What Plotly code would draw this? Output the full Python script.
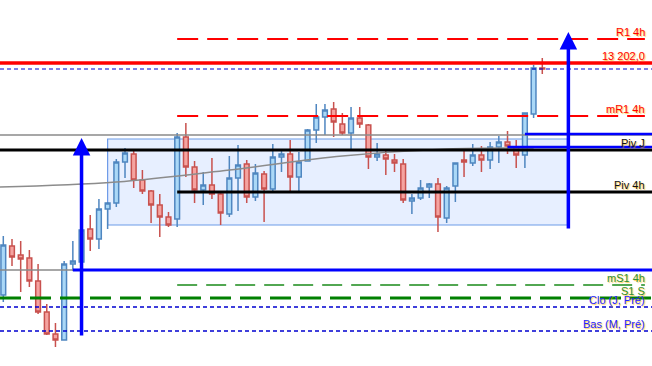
import plotly.graph_objects as go

# ---- candle data (hourly OHLC) ----
opens = [12970, 13019, 13010, 13007, 12984, 12953, 12931, 12925, 13001, 13003,
         13036, 13026, 13056, 13062, 13103, 13111, 13085, 13074, 13060, 13048,
         13046, 13128, 13098, 13075, 13080, 13071, 13051, 13087, 13101, 13068,
         13091, 13076, 13108, 13111, 13088, 13104, 13135, 13148, 13156, 13141,
         13132, 13147, 13140, 13108, 13110, 13105, 13101, 13064, 13067, 13078,
         13081, 13047, 13079, 13105, 13102, 13110, 13105, 13118, 13123, 13118,
         13110, 13151, 13197]
highs = [13029, 13026, 13024, 13015, 13001, 12961, 12942, 13004, 13024, 13037,
         13050, 13066, 13063, 13106, 13117, 13114, 13095, 13075, 13071, 13053,
         13132, 13142, 13104, 13093, 13107, 13072, 13109, 13120, 13105, 13101,
         13094, 13121, 13115, 13125, 13113, 13136, 13161, 13161, 13163, 13152,
         13158, 13158, 13141, 13122, 13114, 13111, 13106, 13071, 13085, 13082,
         13087, 13079, 13102, 13115, 13121, 13119, 13123, 13129, 13134, 13125,
         13152, 13200, 13207]
lows = [12963, 12999, 12973, 12978, 12951, 12930, 12918, 12925, 12994, 13001,
        13014, 13016, 13036, 13058, 13087, 13077, 13071, 13042, 13028, 13038,
        13038, 13088, 13062, 13060, 13066, 13040, 13048, 13054, 13062, 13064,
        13043, 13074, 13093, 13074, 13074, 13104, 13122, 13130, 13128, 13130,
        13115, 13137, 13096, 13104, 13090, 13093, 13062, 13051, 13065, 13067,
        13033, 13042, 13063, 13088, 13099, 13093, 13096, 13102, 13111, 13097,
        13097, 13147, 13191]
closes = [13020, 13008, 13006, 12984, 12953, 12931, 12925, 13001, 13004, 13035,
          13026, 13056, 13062, 13103, 13112, 13085, 13074, 13060, 13048, 13040,
          13128, 13098, 13075, 13080, 13071, 13052, 13087, 13100, 13068, 13092,
          13076, 13108, 13111, 13088, 13103, 13135, 13148, 13155, 13143, 13132,
          13147, 13141, 13108, 13111, 13106, 13102, 13065, 13067, 13077, 13081,
          13048, 13077, 13102, 13103, 13110, 13105, 13118, 13123, 13119, 13110,
          13152, 13197, 13196]
bar_index = list(range(len(opens)))

# ---- moving average (sampled) ----
ma_index = [-0.4, 13, 26, 39, 51, 61]
ma_value = [13078, 13083, 13095, 13109, 13116, 13117]

# ---- labelled levels ----
level_names = ["R1 4h", "13 202,0", "mR1 4h", "Piv J", "Piv 4h",
               "mS1 4h", "S1 S", "Clo (J, Pré)", "Bas (M, Pré)"]
level_values = [13226, 13202, 13149, 13115, 13073, 12980, 12967, 12958, 12934]
level_colors = ["#ff0000", "#ff0000", "#ff0000", "#111111", "#111111",
                "#2f8f2f", "#2f8f2f", "#2323ff", "#2323ff"]
level_start = [20, None, 20, None, 20, 20, None, None, None]
level_end = [73.8, None, 73.8, None, None, 73.8, None, None, None]
level_dash = ["21px,9px", "solid", "21px,9px", "solid", "solid",
              "20px,9px", "21px,9px", "4px,3px", "4px,3px"]
level_width = [2, 3.5, 2, 3, 3, 1.3, 3, 1.5, 1.5]
level_line_colors = ["#ff0000", "#ff0000", "#ff0000", "#000000", "#000000",
                     "#1a8a1a", "#008000", "#0000d0", "#0000d0"]

# other unlabeled lines
gray_levels = [13130, 12995]
close_prev_level = 13196
blue_seg_values = [12995, 13131, 13118]
blue_seg_start = [8, 60, 58]
blue_seg_width = [3, 2.5, 2.5]

# zone rectangle
zone_x = [12, 64.9]
zone_y = [13040, 13126]

# arrows
arrow_x = [9, 65]
arrow_from = [12928, 13035]
arrow_to = [13127, 13233]

X_RANGE = [-0.38, 74.62]
Y_RANGE = [12899, 13265]

fig = go.Figure()

fig.add_trace(go.Candlestick(
    x=bar_index, open=opens, high=highs, low=lows, close=closes,
    increasing=dict(fillcolor="#aad8f7", line=dict(color="#4f86c0", width=1.5)),
    decreasing=dict(fillcolor="#f5a3a0", line=dict(color="#c8514e", width=1.5)),
    whiskerwidth=0, showlegend=False, hoverinfo="skip",
))

fig.add_trace(go.Scatter(
    x=ma_index, y=ma_value, mode="lines",
    line=dict(color="#8c8c8c", width=1.5, shape="spline"),
    showlegend=False, hoverinfo="skip",
))

shapes = []
shapes.append(dict(type="rect", xref="x", yref="y", x0=zone_x[0], x1=zone_x[1],
                   y0=zone_y[0], y1=zone_y[1], layer="below",
                   fillcolor="rgba(215,228,255,0.6)",
                   line=dict(color="#6d9be8", width=1.2)))

for g in gray_levels:
    shapes.append(dict(type="line", xref="paper", yref="y", x0=0, x1=1, y0=g, y1=g,
                       line=dict(color="#8a8a8a", width=1.5), layer="above"))

shapes.append(dict(type="line", xref="paper", yref="y", x0=0, x1=1,
                   y0=close_prev_level, y1=close_prev_level,
                   line=dict(color="#0000d0", width=1.2, dash="4px,3px"), layer="above"))

for v, s, e, d, w, c in zip(level_values, level_start, level_end, level_dash,
                            level_width, level_line_colors):
    if s is None:
        shapes.append(dict(type="line", xref="paper", yref="y", x0=0, x1=1, y0=v, y1=v,
                           line=dict(color=c, width=w, dash=d), layer="above"))
    else:
        x1 = e if e is not None else X_RANGE[1]
        shapes.append(dict(type="line", xref="x", yref="y", x0=s, x1=x1, y0=v, y1=v,
                           line=dict(color=c, width=w, dash=d), layer="above"))

for v, s, w in zip(blue_seg_values, blue_seg_start, blue_seg_width):
    shapes.append(dict(type="line", xref="x", yref="y", x0=s, x1=X_RANGE[1], y0=v, y1=v,
                       line=dict(color="#0000ff", width=w), layer="above"))

annotations = []
for name, v, c in zip(level_names, level_values, level_colors):
    annotations.append(dict(
        x=0.991, xref="paper", y=v, yref="y", xanchor="right", yanchor="bottom",
        text=name, showarrow=False, borderpad=0,
        font=dict(family="Liberation Sans, Arial", size=11, color=c,
                  shadow="1px 1px 1px rgba(255,180,0,0.7)"),
    ))

for xa, y0, y1 in zip(arrow_x, arrow_from, arrow_to):
    annotations.append(dict(
        x=xa, y=y1, xref="x", yref="y", ax=xa, ay=y0, axref="x", ayref="y",
        text="", showarrow=True, arrowhead=2, arrowsize=1, arrowwidth=3.5,
        arrowcolor="#0000ff",
    ))

fig.update_layout(
    width=652, height=366,
    margin=dict(l=0, r=0, t=0, b=0),
    paper_bgcolor="white", plot_bgcolor="white",
    shapes=shapes, annotations=annotations,
    boxgap=0.22,
    xaxis=dict(range=X_RANGE, visible=False, rangeslider=dict(visible=False),
               showgrid=False, zeroline=False),
    yaxis=dict(range=Y_RANGE, visible=False, showgrid=False, zeroline=False),
    showlegend=False,
)

fig.write_html("out.html", config={"displayModeBar": False},
               post_script="document.body.style.margin='0';document.body.style.overflow='hidden';")
